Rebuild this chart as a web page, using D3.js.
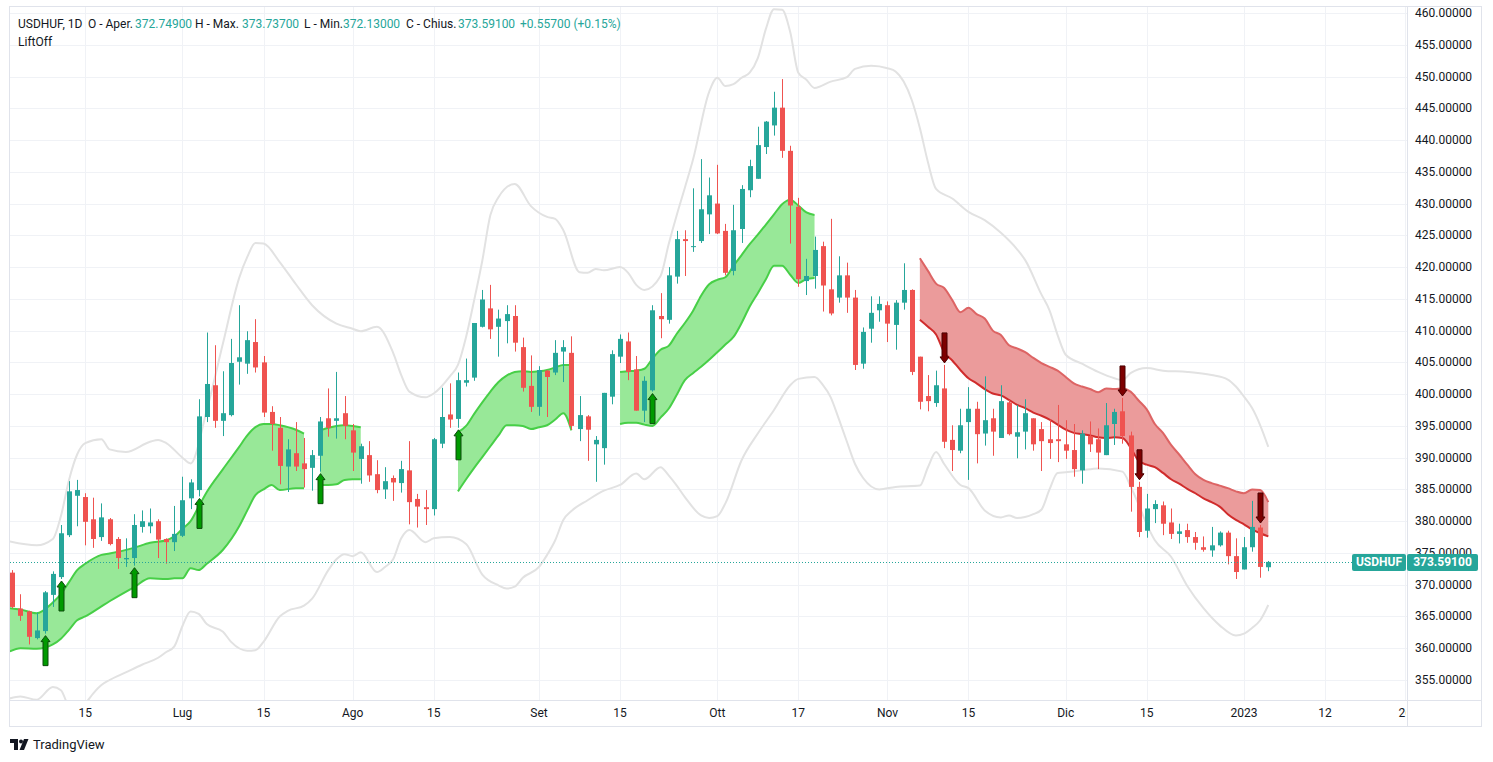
<!DOCTYPE html>
<html><head><meta charset="utf-8">
<script src="https://cdn.jsdelivr.net/npm/d3@7"></script>
<style>body{margin:0;background:#fff;} svg{display:block;font-family:Roboto,"Trebuchet MS",sans-serif;}</style>
</head><body><svg id="c" width="1493" height="762"></svg>
<script>
// ---- DATA ----
const opens = [371.9,366.25,365.8,361.6,362.7,368.4,371.2,377.8,384.0,383.8,380.3,377.5,380.3,377.2,374.0,374.2,379.1,379.2,380.0,377.2,376.7,377.7,383.6,384.9,396.4,401.4,395.8,396.7,405.1,404.8,408.2,405.0,397.2,394.7,388.6,390.7,389.1,388.4,390.3,396.2,395.8,397.0,394.3,389.8,390.4,387.4,385.0,386.8,386.0,388.0,383.5,382.2,381.9,392.2,396.8,396.1,401.8,402.6,410.6,413.5,410.6,411.5,412.3,407.4,401.3,398.0,403.7,403.4,406.7,406.5,394.5,396.5,392.1,391.5,399.6,405.9,408.3,403.9,397.4,400.6,412.3,411.7,418.5,424.4,423.2,424.1,428.3,430.0,425.7,419.4,426.0,432.1,433.9,438.9,442.3,445.1,438.3,429.5,417.8,418.6,423.3,416.5,415.2,418.7,415.2,404.8,410.3,413.2,414.0,410.9,414.4,416.4,405.9,399.7,398.6,400.9,392.8,391.1,395.6,397.7,393.8,396.2,393.1,398.7,393.3,394.1,396.2,394.5,392.9,392.9,392.1,391.2,388.0,393.4,392.9,390.4,395.3,397.3,393.5,385.4,378.5,381.9,382.5,379.8,378.0,378.6,377.5,375.9,375.4,376.2,378.2,374.5,372.4,375.9,379.0,372.749];
const highs = [372.3,368.5,365.9,365.6,369.0,372.1,379.4,386.3,386.5,384.4,383.7,382.8,380.5,377.5,377.3,381.1,381.7,382.0,380.3,377.3,382.4,387.0,386.6,399.2,409.7,407.7,403.6,408.7,414.0,409.9,411.8,406.0,398.1,396.4,392.9,395.6,393.1,391.2,396.4,400.9,403.5,399.7,395.3,392.2,392.6,389.6,388.5,387.2,389.5,392.6,384.3,384.9,393.1,401.0,401.7,403.4,405.6,411.2,416.4,417.2,413.3,414.0,414.0,408.9,406.1,404.4,403.8,408.5,408.5,409.1,399.7,396.7,393.4,400.2,406.9,409.4,409.7,406.0,402.8,414.0,415.9,420.0,425.7,425.8,432.4,437.0,434.1,436.1,426.8,429.8,432.9,436.9,442.1,443.0,447.6,449.6,439.1,430.9,421.3,424.8,424.0,427.6,421.7,420.7,416.4,410.5,415.4,415.4,414.6,414.8,420.6,416.5,405.9,403.0,403.7,404.6,395.1,397.7,401.1,398.8,402.8,397.7,401.4,399.1,398.3,399.2,396.2,395.6,396.0,398.3,395.9,395.3,394.3,395.7,394.6,398.6,397.7,399.4,394.1,386.2,384.3,383.3,383.1,382.0,379.6,379.6,378.3,377.6,379.1,378.4,378.5,377.3,377.5,383.2,379.4,373.737];
const lows = [366.3,364.3,360.6,361.4,362.3,366.5,370.9,377.5,379.2,376.2,375.8,376.9,376.2,372.5,372.8,373.0,378.2,378.1,374.2,373.3,375.3,377.5,381.9,383.9,395.6,394.7,393.4,396.5,401.5,403.2,403.4,396.4,391.1,385.8,384.6,387.9,385.3,384.8,387.8,393.3,393.0,392.9,387.9,385.9,386.2,384.4,383.5,383.2,384.5,379.5,379.0,379.4,380.9,391.5,394.7,394.7,401.2,402.1,410.5,408.7,405.9,408.0,406.7,400.4,397.2,396.6,396.4,403.0,401.9,394.4,392.6,389.5,386.2,388.9,398.4,404.9,402.2,397.4,395.6,400.4,408.8,411.1,417.4,418.6,422.4,423.8,425.2,425.2,418.7,418.7,423.8,431.0,433.9,437.8,440.7,437.2,423.7,416.9,415.6,416.6,413.0,412.4,414.4,412.8,403.8,404.0,408.1,411.4,408.2,407.0,413.3,403.0,397.6,397.3,398.0,391.5,387.9,390.7,386.5,389.1,391.9,390.3,393.1,393.5,389.9,391.3,391.1,387.9,389.8,389.3,389.8,387.0,385.9,390.9,388.2,390.4,392.0,392.2,381.5,377.5,377.4,379.7,377.8,377.2,376.5,376.6,375.5,375.2,374.4,376.0,373.2,370.9,372.4,375.2,371.1,372.13];
const closes = [366.5,365.1,361.8,362.8,368.8,371.7,378.1,384.7,384.9,379.9,377.2,380.6,376.4,374.2,374.2,379.4,380.0,379.8,377.1,376.7,378.0,383.3,386.1,396.5,401.6,395.8,397.0,404.9,405.8,408.5,404.2,397.1,395.3,388.7,391.3,388.6,388.2,390.4,395.7,394.7,396.2,395.0,390.8,391.8,387.2,384.9,386.3,386.1,388.2,383.0,382.3,381.9,392.9,396.4,396.0,402.2,402.2,411.2,414.9,410.2,411.9,412.6,408.1,401.0,398.0,403.8,402.7,406.5,407.4,395.0,396.7,394.4,392.8,400.2,406.3,408.7,403.5,397.4,402.1,413.2,411.8,418.7,424.4,424.1,423.3,429.1,431.3,425.3,419.1,425.8,432.3,435.9,439.2,442.9,445.1,438.3,429.7,418.1,418.6,422.7,417.1,412.7,418.7,415.2,404.6,409.8,412.8,414.2,411.1,414.4,416.4,403.5,398.8,398.9,401.4,392.5,391.2,395.1,397.7,393.7,395.9,394.1,398.9,393.7,394.0,397.0,392.1,392.6,392.3,392.6,391.1,388.2,393.8,392.1,390.8,395.1,397.2,393.4,385.4,378.3,382.0,382.7,379.6,378.0,378.4,377.5,376.6,375.5,376.2,378.2,374.5,372.0,375.9,379.1,372.8,373.591];

const tickIdx = [9,21,31,42,52,65,75,87,97,108,118,130,140,152,162,171.9];
const tickLabels = ["15","Lug","15","Ago","15","Set","15","Ott","17","Nov","15","Dic","15","2023","12","26"];
const priceTicks = d3.range(355, 461, 5);

const upperIdx = [-0.3,3,5,6,7,8,9,11,12,14,17,18,19,21,22,24,26,28,29,30,31,33,35,37,40,42,43,45,47,48,49,51,52,54,55,56,57,58,59,60,62,64,66,67,68,70,71,72,73,75,76,77,78,80,81,82,83,84,86,87,88,89,90,91,92,93,94,95,96,97,98,99,101,103,104,106,108,109,110,111,112,113,114,116,118,120,122,124,125,127,128,129,130,132,134,136,137,138,140,142,145,148,150,151,152,153,154,155];
const upperVal = [376.8,376.2,377.2,380.8,386.5,390.5,392.3,392.9,391.3,390.9,392.5,392.8,392.3,390.0,389.1,397.5,408.0,418.3,421.6,423.8,423.7,420.8,417.3,414.0,411.1,410.3,409.9,410.6,406.5,403.0,400.4,399.5,400.1,402.8,404.6,409.0,414.8,421.0,428.2,431.0,433.1,429.6,427.9,427.6,425.8,419.2,419.1,419.7,419.5,420.0,419.1,417.2,416.4,418.6,423.6,428.2,432.5,436.9,447.6,449.8,448.5,448.8,449.8,450.6,452.9,457.5,460.6,460.5,457.0,450.6,449.5,448.2,449.2,449.9,451.2,451.7,451.3,450.8,449.2,446.3,441.9,436.5,432.3,430.8,428.7,427.4,425.4,422.8,421.1,415.7,413.2,409.3,406.2,404.8,403.5,402.5,402.2,403.3,404.1,403.7,403.5,403.0,402.3,401.2,399.6,397.8,395.1,391.7];

const lowerIdx = [-0.3,1,3,5,6,7,8,9,10,11,12,14,16,18,19,20,21,22,23,24,26,27,29,30,31,33,34,36,37,39,40,41,42,43,45,46,47,48,49,51,52,54,56,58,60,61,62,63,65,66,67,68,69,71,73,75,77,78,80,81,82,83,85,86,87,88,90,92,94,96,97,99,100,101,102,103,104,105,107,109,112,113,114,115,117,118,120,122,123,124,126,127,128,129,130,132,134,137,138,139,140,141,143,145,147,149,151,152,153,154,155];
const lowerVal = [352.1,352.4,351.9,353.9,353.4,350.8,350.2,351.3,352.9,354.2,355.0,356.2,357.4,358.5,359.4,360.3,363.5,365.8,365.4,363.8,362.6,361.0,359.6,359.7,361.0,365.0,365.9,366.7,367.8,372.3,374.0,374.8,374.5,375.1,372.0,372.8,374.0,377.3,378.6,376.7,377.3,377.5,376.4,371.6,369.9,369.4,369.7,371.1,372.8,374.7,377.0,380.2,381.6,383.3,384.8,385.7,387.5,386.6,388.5,387.2,385.6,383.8,380.9,380.5,380.8,382.8,389.6,393.8,397.5,401.4,402.4,402.7,401.5,399.5,396.1,392.5,389.0,386.8,385.0,385.4,385.6,388.5,390.9,389.0,385.7,385.2,381.7,380.6,380.9,380.5,381.1,381.8,385.0,387.6,387.7,388.0,388.3,387.8,385.5,382.6,379.5,377.0,374.4,369.8,366.3,363.6,362.0,362.3,363.2,364.4,366.8];

const g1Idx = [-0.3,1,3,5,6,7,8,9,11,12,15,17,19,20,21,22,23,24,26,28,29,30,31,32,33,35,36];
const g1Top = [366.3,366.1,365.5,367.2,368.5,370.4,372.3,373.3,374.7,374.9,375.8,376.6,377.0,377.6,378.8,380.0,382.3,384.6,388.2,391.7,393.5,394.8,395.3,395.3,395.1,394.4,393.8];
const g1Bot = [359.5,360.0,359.9,360.6,361.5,362.9,364.4,365.0,366.6,367.4,369.6,371.0,370.9,371.0,371.0,372.6,372.3,373.3,375.5,379.2,381.7,384.1,385.0,385.7,384.9,385.2,385.2];
const g2Idx = [38,39,40,41,42,43];
const g2Top = [394.3,394.7,395.0,395.1,395.0,394.8];
const g2Bot = [385.7,385.7,385.8,386.5,386.6,386.6];
const g3Idx = [55,56,57,58,59,60,61,62,63,64,65,66,67,68,69];
const g3Top = [394.0,395.0,396.9,398.7,400.4,401.9,402.9,403.5,403.6,403.5,403.6,403.8,404.2,404.6,404.6];
const g3Bot = [384.7,386.6,388.4,390.1,391.8,393.5,395.1,395.1,395.0,394.5,394.8,395.1,396.0,397.0,394.3];
const g4Idx = [75,76,77,78,79,80,81,82,83,84,85,86,87,88,89,90,91,92,93,94,95,96,97,98,99];
const g4Top = [403.5,403.6,403.7,404.0,405.6,407.0,407.6,409.5,411.2,413.1,415.5,417.3,418.0,418.4,420.2,421.9,423.6,425.1,426.7,428.3,429.9,430.6,429.7,428.6,428.2];
const g4Bot = [395.3,395.5,395.5,395.2,395.0,396.3,397.7,399.9,402.2,403.3,404.3,405.4,406.6,407.8,409.0,411.2,413.8,415.9,418.1,420.2,420.2,418.8,417.5,418.1,418.3];
const r1Idx = d3.range(112, 156);
const r1Top = [421.4,419.4,417.4,416.7,414.8,412.9,413.6,412.6,411.9,410.0,409.3,407.7,407.2,406.6,405.7,404.9,404.3,403.7,402.7,401.7,401.2,400.8,400.3,400.9,400.8,400.9,400.4,399.0,397.6,395.3,393.9,392.0,390.5,388.9,387.4,386.5,386.0,385.6,385.2,384.7,384.4,385.0,384.9,383.0];
const r1Bot = [411.7,410.6,409.4,406.6,405.3,403.8,402.5,401.7,400.8,400.1,399.8,399.1,398.3,397.8,397.1,396.6,396.0,395.2,394.4,393.9,393.7,393.5,393.2,393.1,393.2,393.1,391.6,389.5,388.9,388.5,387.6,386.6,385.9,385.1,384.4,383.6,383.0,382.3,381.1,380.2,379.5,378.7,378.1,377.6];

const upArrows = [4,6,15,23,38,55,79];
const downArrows = [115,137,139,154];
const lastPrice = 373.591;

// ---- CHART ----
const svg = d3.select("#c");
const L = 10, R = 1407, T = 7, B = 700;
const x = d3.scaleLinear().domain([0,155]).range([12.3,1268.3]);
const y = d3.scaleLinear().domain([355,460]).range([680,13]);
const UP = "#26a69a", DN = "#ef5350", TXT = "#131722";

svg.append("rect").attr("width",1493).attr("height",762).attr("fill","#fff");
const defs = svg.append("defs");
defs.append("clipPath").attr("id","plot").append("rect").attr("x",L).attr("y",T).attr("width",R-L).attr("height",B-T);
defs.append("clipPath").attr("id","xax").append("rect").attr("x",L).attr("y",B).attr("width",R-L-1).attr("height",27);

// grid
const grid = svg.append("g").attr("clip-path","url(#plot)");
grid.selectAll(".hg").data(priceTicks).join("line")
  .attr("x1",L).attr("x2",R).attr("y1",d=>Math.round(y(d))+0.5).attr("y2",d=>Math.round(y(d))+0.5)
  .attr("stroke","#f0f2f6");
grid.selectAll(".vg").data(tickIdx).join("line")
  .attr("y1",T).attr("y2",B).attr("x1",d=>Math.round(x(d))+0.5).attr("x2",d=>Math.round(x(d))+0.5)
  .attr("stroke","#f0f2f6");

const plot = svg.append("g").attr("clip-path","url(#plot)");

// bands
const bandLine = d3.line().x(d=>x(d[0])).y(d=>y(d[1])).curve(d3.curveMonotoneX);
plot.append("path").attr("d",bandLine(d3.zip(upperIdx,upperVal))).attr("fill","none").attr("stroke","#e2e2e2").attr("stroke-width",2);
plot.append("path").attr("d",bandLine(d3.zip(lowerIdx,lowerVal))).attr("fill","none").attr("stroke","#e2e2e2").attr("stroke-width",2);

// fills
function zone(idx, top, bot, fill, cTop, cBot) {
  const pts = idx.map((d,i)=>({i:d,t:top[i],b:bot[i]}));
  const area = d3.area().x(d=>x(d.i)).y0(d=>y(d.b)).y1(d=>y(d.t)).curve(d3.curveMonotoneX);
  plot.append("path").attr("d",area(pts)).attr("fill",fill);
  const lt = d3.line().x(d=>x(d.i)).y(d=>y(d.t)).curve(d3.curveMonotoneX);
  const lb = d3.line().x(d=>x(d.i)).y(d=>y(d.b)).curve(d3.curveMonotoneX);
  plot.append("path").attr("d",lt(pts)).attr("fill","none").attr("stroke",cTop).attr("stroke-width",2);
  plot.append("path").attr("d",lb(pts)).attr("fill","none").attr("stroke",cBot).attr("stroke-width",2);
}
const GF = "#98e898", GL = "#47cf47";
zone(g1Idx,g1Top,g1Bot,GF,GL,GL);
zone(g2Idx,g2Top,g2Bot,GF,GL,GL);
zone(g3Idx,g3Top,g3Bot,GF,GL,GL);
zone(g4Idx,g4Top,g4Bot,GF,GL,GL);
zone(r1Idx,r1Top,r1Bot,"#eb9b9b","#dd6464","#d02c2c");

// candles
const idx = d3.range(opens.length);
const cg = plot.append("g");
cg.selectAll(".w").data(idx).join("line")
  .attr("x1",i=>Math.round(x(i))+0.5).attr("x2",i=>Math.round(x(i))+0.5)
  .attr("y1",i=>y(highs[i])).attr("y2",i=>y(lows[i]))
  .attr("stroke",i=>closes[i]>=opens[i]?UP:DN).attr("stroke-width",1);
cg.selectAll(".b").data(idx).join("rect")
  .attr("x",i=>Math.round(x(i))-2).attr("width",5)
  .attr("y",i=>y(Math.max(opens[i],closes[i])))
  .attr("height",i=>Math.max(1,Math.abs(y(opens[i])-y(closes[i]))))
  .attr("fill",i=>closes[i]>=opens[i]?UP:DN);

// arrows
function arrowPath(cx, tip, dir) {
  const h=30, hh=6, hw=4.5, sw=2.5;
  const s = dir;
  return `M${cx},${tip} L${cx+hw},${tip+s*hh} L${cx+sw},${tip+s*hh} L${cx+sw},${tip+s*h} L${cx-sw},${tip+s*h} L${cx-sw},${tip+s*hh} L${cx-hw},${tip+s*hh} Z`;
}
plot.selectAll(".ua").data(upArrows).join("path")
  .attr("d",i=>arrowPath(Math.round(x(i))+0.5, y(lows[i])+2, 1))
  .attr("fill","#009a00").attr("stroke","#0b4a0b").attr("stroke-width",1);
plot.selectAll(".da").data(downArrows).join("path")
  .attr("d",i=>arrowPath(Math.round(x(i))+0.5, y(highs[i])-2, -1))
  .attr("fill","#7d0000").attr("stroke","#4a0000").attr("stroke-width",1);

// last price dotted line
svg.append("line").attr("x1",L).attr("x2",1352).attr("y1",Math.round(y(lastPrice))+0.5).attr("y2",Math.round(y(lastPrice))+0.5)
  .attr("stroke",UP).attr("stroke-width",1).attr("stroke-dasharray","1,2");

// frame
svg.append("rect").attr("x",L-0.5).attr("y",T-0.5).attr("width",1481-L+1).attr("height",727-T).attr("fill","none").attr("stroke","#e0e3eb");
svg.append("line").attr("x1",R+0.5).attr("x2",R+0.5).attr("y1",T).attr("y2",727).attr("stroke","#e0e3eb");
svg.append("line").attr("x1",L).attr("x2",1481).attr("y1",B+0.5).attr("y2",B+0.5).attr("stroke","#e0e3eb");

// y axis labels
const ya = svg.append("g");
ya.selectAll("text").data(priceTicks).join("text")
  .attr("x",1415).attr("y",d=>y(d)+4).attr("font-size",12).attr("fill",TXT)
  .text(d=>d3.format(".5f")(d));

// price label
svg.append("rect").attr("x",1352).attr("y",554).attr("width",54).attr("height",17).attr("rx",2).attr("fill",UP);
svg.append("rect").attr("x",1407).attr("y",554).attr("width",71).attr("height",17).attr("rx",2).attr("fill",UP);
svg.append("text").attr("x",1379).attr("y",y(lastPrice)+4.5).attr("text-anchor","middle").attr("font-size",12).attr("font-weight","bold").attr("fill","#fff").text("USDHUF");
svg.append("text").attr("x",1442.5).attr("y",y(lastPrice)+4.5).attr("text-anchor","middle").attr("font-size",12).attr("font-weight","bold").attr("fill","#fff").text(d3.format(".5f")(lastPrice));

// x axis labels
svg.append("g").attr("clip-path","url(#xax)").selectAll("text").data(tickIdx).join("text")
  .attr("x",d=>x(d)).attr("y",717).attr("text-anchor","middle").attr("font-size",12).attr("fill",TXT)
  .text((d,i)=>tickLabels[i]);

// header
const hdr = [
  ["USDHUF, 1D",18,TXT],["O - Aper.",88,TXT],["372.74900",135,UP],["H - Max.",195,TXT],["373.73700",242,UP],
  ["L - Min.",304,TXT],["372.13000",343,UP],["C - Chius.",406,TXT],["373.59100",458,UP],["+0.55700 (+0.15%)",520,UP]
];
svg.selectAll(".hd").data(hdr).join("text").attr("x",d=>d[1]).attr("y",28).attr("font-size",12).attr("fill",d=>d[2]).text(d=>d[0]);
svg.append("text").attr("x",18).attr("y",46).attr("font-size",12).attr("fill",TXT).text("LiftOff");

// TradingView logo
const lg = svg.append("g").attr("fill",TXT);
lg.append("path").attr("d","M10,739 h8 v11 h-4 v-7 h-4 Z");
lg.append("circle").attr("cx",21).attr("cy",741.5).attr("r",2);
lg.append("path").attr("d","M24,739 h4.5 l-4.5,11 h-4.5 Z");
svg.append("text").attr("x",33).attr("y",749).attr("font-size",13).attr("fill",TXT).text("TradingView");
</script></body></html>
